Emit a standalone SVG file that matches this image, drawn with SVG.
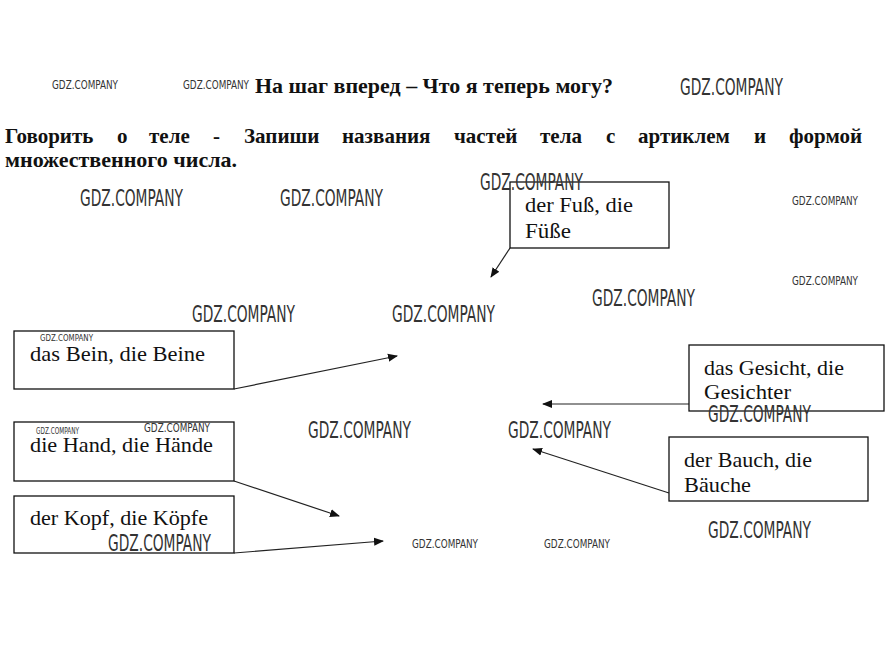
<svg xmlns="http://www.w3.org/2000/svg" width="892" height="652" viewBox="0 0 892 652">
<style>
.t{font-family:"Liberation Serif","Times New Roman",serif;fill:#111}
.h{font-weight:bold;font-size:21px}
.n{font-size:21px}
.b{fill:#fff;stroke:#111;stroke-width:1.3}
.c{stroke:#222;stroke-width:1.2;fill:none;marker-end:url(#ah)}
.w{font-family:"DejaVu Sans","Liberation Sans",sans-serif;font-stretch:condensed;fill:#333;font-weight:normal}
.wl{font-size:23px}
.ws{font-size:13px}
.wt{font-size:9px}
</style>
<defs>
<marker id="ah" viewBox="0 0 10 10" refX="9" refY="5" markerWidth="10" markerHeight="10" markerUnits="userSpaceOnUse" orient="auto">
<path d="M0,1 L10,5 L0,9 z" fill="#111"/>
</marker>
</defs>
<rect width="892" height="652" fill="#fff"/>
<text class="t h" x="434" y="93" text-anchor="middle" textLength="358" lengthAdjust="spacingAndGlyphs">На шаг вперед – Что я теперь могу?</text>
<text class="t h" y="143"><tspan x="5">Говорить</tspan><tspan x="117">о</tspan><tspan x="149">теле</tspan><tspan x="213">-</tspan><tspan x="244">Запиши</tspan><tspan x="342">названия</tspan><tspan x="454">частей</tspan><tspan x="540">тела</tspan><tspan x="606">с</tspan><tspan x="638">артиклем</tspan><tspan x="754">и</tspan><tspan x="789">формой</tspan></text>
<text class="t h" x="5" y="167" textLength="232" lengthAdjust="spacingAndGlyphs">множественного числа.</text>
<g id="connectors">
<path class="c" d="M510,248 L491,277"/>
<path class="c" d="M234,389 L397,356"/>
<path class="c" d="M234,481 L339,516"/>
<path class="c" d="M234,553 L383,541"/>
<path class="c" d="M689,404 L543,404"/>
<path class="c" d="M669,493 L533,449"/>
</g>
<g id="fuss">
<rect class="b" x="510" y="182" width="159" height="66"/>
<text class="t n" x="525" y="212" textLength="108" lengthAdjust="spacingAndGlyphs">der Fuß, die</text>
<text class="t n" x="525" y="238" textLength="46" lengthAdjust="spacingAndGlyphs">Füße</text>
</g>
<g id="bein">
<rect class="b" x="14" y="331" width="220" height="58"/>
<text class="t n" x="30" y="361" textLength="175" lengthAdjust="spacingAndGlyphs">das Bein, die Beine</text>
</g>
<g id="hand">
<rect class="b" x="14" y="422" width="220" height="59"/>
<text class="t n" x="30" y="452" textLength="183" lengthAdjust="spacingAndGlyphs">die Hand, die Hände</text>
</g>
<g id="kopf">
<rect class="b" x="14" y="496" width="220" height="57"/>
<text class="t n" x="30" y="525" textLength="178" lengthAdjust="spacingAndGlyphs">der Kopf, die Köpfe</text>
</g>
<g id="gesicht">
<rect class="b" x="689" y="345" width="195" height="66"/>
<text class="t n" x="704" y="375" textLength="140" lengthAdjust="spacingAndGlyphs">das Gesicht, die</text>
<text class="t n" x="704" y="399" textLength="87" lengthAdjust="spacingAndGlyphs">Gesichter</text>
</g>
<g id="bauch">
<rect class="b" x="669" y="437" width="199" height="64"/>
<text class="t n" x="684" y="467" textLength="128" lengthAdjust="spacingAndGlyphs">der Bauch, die</text>
<text class="t n" x="684" y="492" textLength="67" lengthAdjust="spacingAndGlyphs">Bäuche</text>
</g>
<g id="watermarks">
<text class="w ws" x="52" y="89" textLength="66" lengthAdjust="spacingAndGlyphs">GDZ.COMPANY</text>
<text class="w ws" x="183" y="89" textLength="66" lengthAdjust="spacingAndGlyphs">GDZ.COMPANY</text>
<text class="w wl" x="680" y="95" textLength="103" lengthAdjust="spacingAndGlyphs">GDZ.COMPANY</text>
<text class="w wl" x="480" y="190" textLength="103" lengthAdjust="spacingAndGlyphs">GDZ.COMPANY</text>
<text class="w wl" x="80" y="206" textLength="103" lengthAdjust="spacingAndGlyphs">GDZ.COMPANY</text>
<text class="w wl" x="280" y="206" textLength="103" lengthAdjust="spacingAndGlyphs">GDZ.COMPANY</text>
<text class="w ws" x="792" y="205" textLength="66" lengthAdjust="spacingAndGlyphs">GDZ.COMPANY</text>
<text class="w ws" x="792" y="285" textLength="66" lengthAdjust="spacingAndGlyphs">GDZ.COMPANY</text>
<text class="w wl" x="592" y="306" textLength="103" lengthAdjust="spacingAndGlyphs">GDZ.COMPANY</text>
<text class="w wl" x="192" y="322" textLength="103" lengthAdjust="spacingAndGlyphs">GDZ.COMPANY</text>
<text class="w wl" x="392" y="322" textLength="103" lengthAdjust="spacingAndGlyphs">GDZ.COMPANY</text>
<text class="w wt" x="40" y="341" textLength="53" lengthAdjust="spacingAndGlyphs">GDZ.COMPANY</text>
<text class="w wt" x="36" y="434" textLength="43" lengthAdjust="spacingAndGlyphs">GDZ.COMPANY</text>
<text class="w ws" x="144" y="432" textLength="66" lengthAdjust="spacingAndGlyphs">GDZ.COMPANY</text>
<text class="w wl" x="308" y="438" textLength="103" lengthAdjust="spacingAndGlyphs">GDZ.COMPANY</text>
<text class="w wl" x="508" y="438" textLength="103" lengthAdjust="spacingAndGlyphs">GDZ.COMPANY</text>
<text class="w wl" x="708" y="422" textLength="103" lengthAdjust="spacingAndGlyphs">GDZ.COMPANY</text>
<text class="w wl" x="108" y="551" textLength="103" lengthAdjust="spacingAndGlyphs">GDZ.COMPANY</text>
<text class="w ws" x="412" y="548" textLength="66" lengthAdjust="spacingAndGlyphs">GDZ.COMPANY</text>
<text class="w ws" x="544" y="548" textLength="66" lengthAdjust="spacingAndGlyphs">GDZ.COMPANY</text>
<text class="w wl" x="708" y="538" textLength="103" lengthAdjust="spacingAndGlyphs">GDZ.COMPANY</text>
</g>
</svg>
